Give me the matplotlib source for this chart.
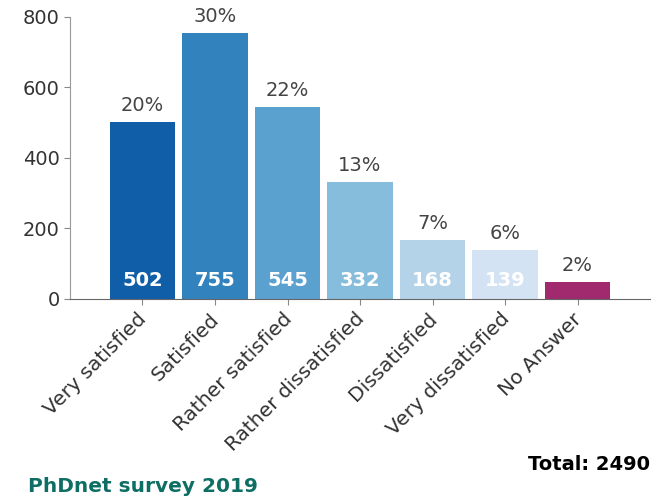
import matplotlib
matplotlib.use("Agg")
import matplotlib.pyplot as plt
import matplotlib.transforms as mtransforms

# PhDnet survey 2019: overall satisfaction
categories = ["Very satisfied", "Satisfied", "Rather satisfied", "Rather dissatisfied",
              "Dissatisfied", "Very dissatisfied", "No Answer"]
counts = [502, 755, 545, 332, 168, 139, 49]
bar_colors = ["#115ea8", "#3282bd", "#5aa1d0", "#86bcdc", "#b4d3e9", "#d3e3f4", "#a02a6d"]

total = sum(counts)

fig = plt.figure(figsize=(6.54, 4.98), dpi=100)
ax = fig.add_axes([0.107, 0.3996, 0.887, 0.5664])

x = list(range(len(categories)))
ax.bar(x, counts, width=0.9, color=bar_colors, zorder=2)

for i, c in enumerate(counts):
    pct = 100.0 * c / total
    ax.annotate(f"{pct:.0f}%", (i, c), xytext=(0, 5), textcoords="offset points",
                ha="center", va="bottom", fontsize=14, color="#444444")
    if categories[i] != "No Answer":
        ax.text(i, 52, str(c), ha="center", va="center", fontsize=14,
                fontweight="bold", color="white", zorder=3)

ax.set_xlim(-1, 7)
ax.set_ylim(0, 800)
ax.set_yticks([0, 200, 400, 600, 800])
ax.set_xticks(x)
ax.set_xticklabels(categories, rotation=45, ha="right", fontsize=14.5, color="#333333")
ax.tick_params(axis="y", labelsize=14, labelcolor="#333333", color="#888888", length=4)
ax.tick_params(axis="x", color="#888888", length=4)

# nudge the rotated category labels a little to the right
shift = mtransforms.ScaledTranslation(0.08, 0, fig.dpi_scale_trans)
for lbl in ax.get_xticklabels():
    lbl.set_transform(lbl.get_transform() + shift)

for side in ["top", "right"]:
    ax.spines[side].set_visible(False)
ax.spines["left"].set_color("#999999")
ax.spines["bottom"].set_color("#666666")

fig.text(0.994, 0.056, f"Total: {total}", ha="right", va="baseline",
         fontsize=14, fontweight="bold", color="black")
fig.text(0.043, 0.024, "PhDnet survey 2019", ha="left", va="center",
         fontsize=14.5, fontweight="bold", color="#0e6e63")

fig.savefig("out.png", dpi=100)
